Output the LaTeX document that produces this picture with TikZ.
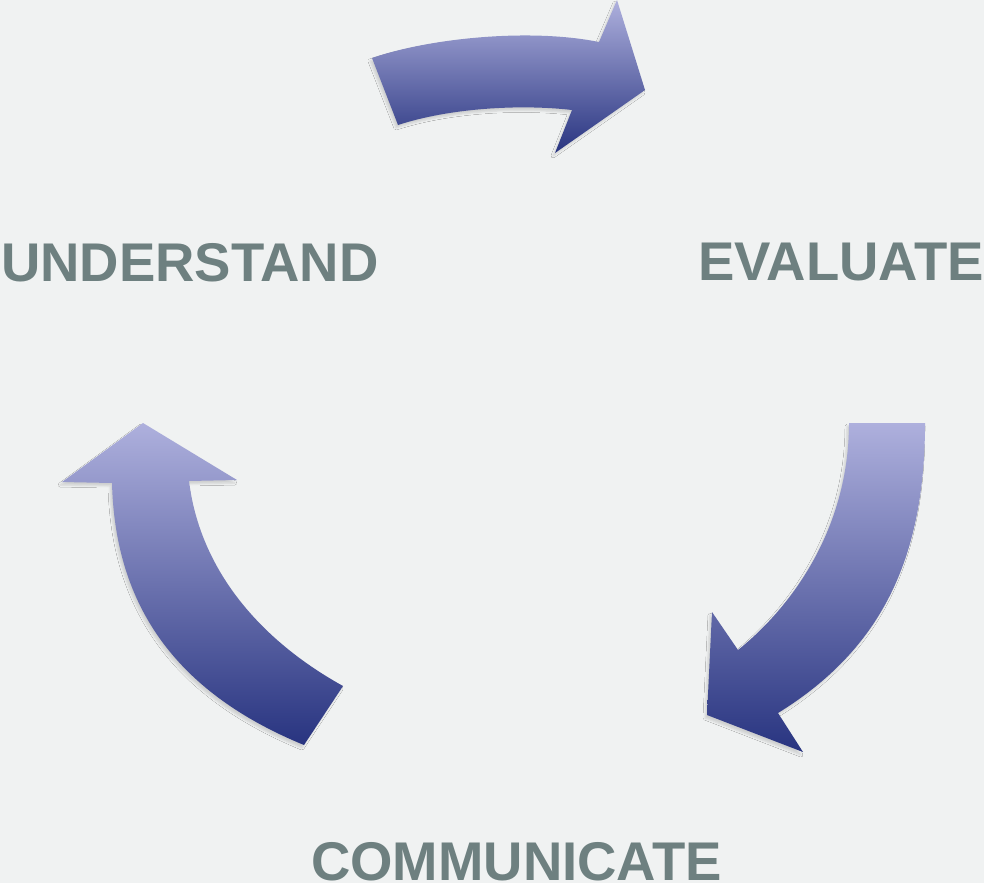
\documentclass[tikz,border=0pt]{standalone}
\usepackage{fontspec}
\setmainfont{Liberation Sans}
\usetikzlibrary{shadows.blur}
\definecolor{bgc}{RGB}{240,242,242}
\definecolor{txtc}{RGB}{110,128,128}
\definecolor{arrtop}{RGB}{174,176,221}
\definecolor{arrbot}{RGB}{40,52,128}
\tikzset{
  cyclearrow/.style={top color=arrtop, bottom color=arrbot, draw=none,
    blur shadow={shadow xshift=-2pt, shadow yshift=-3pt, shadow blur radius=2pt, shadow opacity=14}},
  label/.style={font=\fontsize{54.5}{60}\selectfont\bfseries, text=txtc, inner sep=0pt}
}
\begin{document}
\begin{tikzpicture}[x=1pt,y=-1pt]
\fill[bgc] (0,0) rectangle (984,883);
\useasboundingbox (0,0) rectangle (984,883);
% top arrow
\shade[cyclearrow] (372,58) .. controls (430,38) and (530,28) .. (599,42) -- (617,0) -- (645,90) -- (555,153) -- (572,110) .. controls (520,104) and (450,108) .. (398,125) -- cycle;
% right arrow
\shade[cyclearrow] (849,423) -- (925,423) .. controls (925,560) and (880,650) .. (778,713) -- (803,752) -- (707,715) -- (712,612) -- (738,650) .. controls (800,600) and (849,520) .. (849,423) -- cycle;
% left arrow
\shade[cyclearrow] (112,483) -- (62,482) -- (143,423) -- (237,480) -- (189,481) .. controls (200,570) and (260,640) .. (343,686) -- (304,745) .. controls (170,690) and (115,600) .. (112,483) -- cycle;
% labels
\node[label, anchor=base west] (understand) at (1,281) {UNDERSTAND};
\node[label, anchor=base west] (evaluate) at (698,280) {EVALUATE};
\node[label, anchor=base west] (communicate) at (311,880) {COMMUNICATE};
\end{tikzpicture}
\end{document}
